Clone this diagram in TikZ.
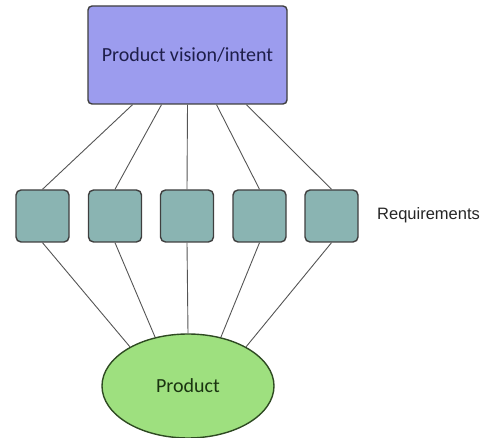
\documentclass[tikz,border=0pt]{standalone}
\usepackage{fontspec}
\setmainfont{Carlito}
\newfontfamily\labelfont{Liberation Sans}
\usetikzlibrary{shapes.geometric}

\definecolor{visionfill}{HTML}{9C9CEE}
\definecolor{visiontext}{HTML}{1E1E4A}
\definecolor{reqfill}{HTML}{8AB4B2}
\definecolor{prodfill}{HTML}{9EE07F}
\definecolor{prodline}{HTML}{2E4A22}
\definecolor{prodtext}{HTML}{1A3410}
\definecolor{edge}{HTML}{3F3F3F}
\definecolor{wire}{HTML}{555555}

\tikzset{
  visionbox/.style={draw=edge, line width=1.4pt, fill=visionfill, rounded corners=4pt,
    minimum width=199pt, minimum height=98pt, inner sep=0pt,
    font=\fontsize{20}{24}\selectfont, text=visiontext},
  reqbox/.style={draw=edge, line width=1.4pt, fill=reqfill, rounded corners=5pt,
    minimum width=53pt, minimum height=52pt, inner sep=0pt},
  prodnode/.style={ellipse, draw=prodline, line width=1.4pt, fill=prodfill,
    minimum width=172pt, minimum height=104pt, inner sep=0pt,
    font=\fontsize{20}{24}\selectfont, text=prodtext},
  wireline/.style={draw=wire, line width=0.9pt},
  sidelabel/.style={font=\labelfont\fontsize{16.5}{20}\selectfont, text=black!85, anchor=west, inner sep=0pt}
}

\begin{document}
\begin{tikzpicture}[x=1pt, y=-1pt]
  \useasboundingbox (0,0) rectangle (488,438);

  % vision at the top
  \node[visionbox] (vision) at (187.5,55) {Product vision/intent};

  % requirement boxes
  \node[reqbox] (r1) at (42.5,216) {};
  \node[reqbox] (r2) at (115,216) {};
  \node[reqbox] (r3) at (187,216) {};
  \node[reqbox] (r4) at (259.5,216) {};
  \node[reqbox] (r5) at (331.5,216) {};
  \node[sidelabel] (reqlabel) at (377,215) {Requirements};

  % product at the bottom
  \node[prodnode] (product) at (188,386) {Product};

  % attachment points on the vision box
  \coordinate (v1) at ([xshift=-55pt]vision.south);
  \coordinate (v2) at ([xshift=-26pt]vision.south);
  \coordinate (v3) at ([xshift=0pt]vision.south);
  \coordinate (v4) at ([xshift=29pt]vision.south);
  \coordinate (v5) at ([xshift=59pt]vision.south);

  % links from the vision to each requirement
  \draw[wireline] (v1) -- (r1.north);
  \draw[wireline] (v2) -- (r2.north);
  \draw[wireline] (v3) -- (r3.north);
  \draw[wireline] (v4) -- (r4.north);
  \draw[wireline] (v5) -- (r5.north);

  % links from each requirement to the product
  \draw[wireline] (r1.south) -- (product.146);
  \draw[wireline] (r2.south) -- (product.124);
  \draw[wireline] (r3.south) -- (product.90);
  \draw[wireline] (r4.south) -- (product.56);
  \draw[wireline] (r5.south) -- (product.34);
\end{tikzpicture}
\end{document}
